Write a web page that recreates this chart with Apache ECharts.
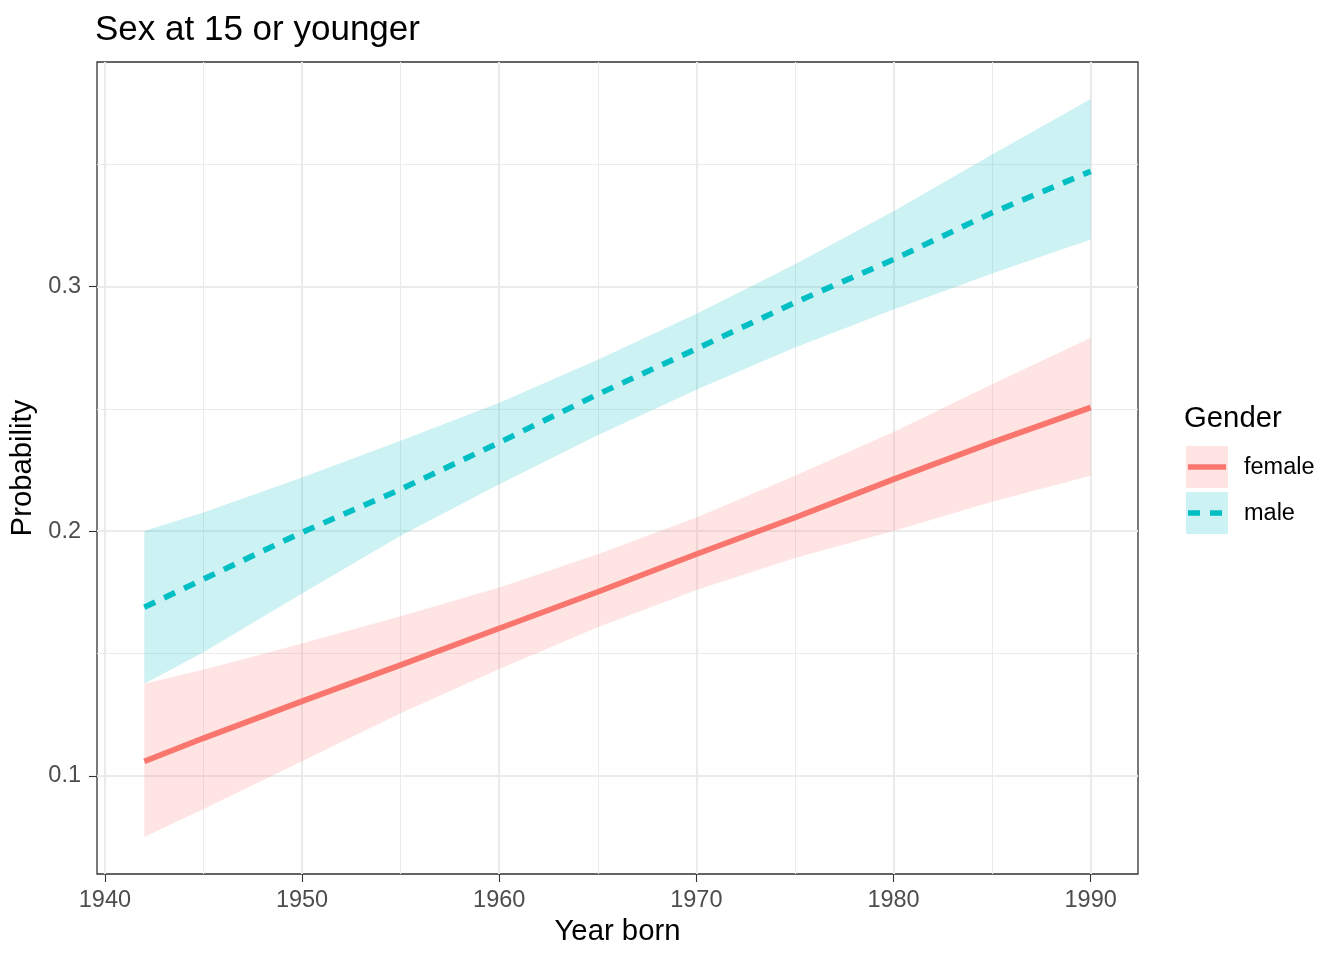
<!DOCTYPE html>
<html><head><meta charset="utf-8">
<script src="https://cdn.jsdelivr.net/npm/echarts@6/dist/echarts.min.js"></script>
<style>html,body{margin:0;padding:0;background:#fff}#c{width:1344px;height:960px}</style>
</head><body><div id="c"></div>
<script>
const years = [1942,1945,1950,1955,1960,1965,1970,1975,1980,1985,1990];
const femaleFit   = [0.1059,0.1154,0.1305,0.1453,0.1603,0.1752,0.1906,0.2055,0.2212,0.2362,0.2505];
const femaleLower = [0.0750,0.0865,0.1060,0.1256,0.1437,0.1607,0.1760,0.1890,0.2001,0.2120,0.2226];
const femaleUpper = [0.1376,0.1434,0.1541,0.1652,0.1770,0.1906,0.2056,0.2226,0.2405,0.2600,0.2790];
const maleFit     = [0.1689,0.1804,0.1995,0.2171,0.2362,0.2559,0.2745,0.2934,0.3110,0.3301,0.3470];
const maleLower   = [0.1376,0.1505,0.1745,0.1981,0.2192,0.2392,0.2578,0.2750,0.2906,0.3053,0.3192];
const maleUpper   = [0.2001,0.2076,0.2219,0.2369,0.2525,0.2700,0.2888,0.3090,0.3307,0.3539,0.3766];
const xTicks = [1940,1950,1960,1970,1980,1990];
const xMinor = [1945,1955,1965,1975,1985];
const yTicks = [0.1,0.2,0.3];
const yMinor = [0.15,0.25,0.35];
const genders = ['female','male'];

const FONT = "'Liberation Sans', Arial, Helvetica, sans-serif";
const COL_F = '#F8766D', COL_M = '#00BFC4';
const FILL_F = 'rgba(248,118,109,0.2)', FILL_M = 'rgba(0,191,196,0.2)';

// ggplot-like 5% expansion
const xMinD = Math.min(...years), xMaxD = Math.max(...years);
const allY = femaleLower.concat(femaleUpper, maleLower, maleUpper);
const yMinD = Math.min(...allY), yMaxD = Math.max(...allY);
const xPad = (xMaxD - xMinD) * 0.05, yPad = (yMaxD - yMinD) * 0.05;

const pairs = arr => years.map((y, i) => [y, arr[i]]);
const bandData = (lo, up) => years.map((y, i) => [y, lo[i], up[i]]);

function bandRenderer(fill) {
  return function (params, api) {
    if (params.dataIndex !== 0) return null;
    const n = years.length;
    const top = [], bot = [];
    for (let i = 0; i < n; i++) {
      top.push(api.coord([api.value(0, i), api.value(2, i)]));
      bot.push(api.coord([api.value(0, i), api.value(1, i)]));
    }
    const pts = top.concat(bot.reverse());
    return {type: 'polygon', shape: {points: pts}, style: {fill: fill, stroke: null}, silent: true};
  };
}

const gridLines = [];
xTicks.forEach(v => gridLines.push({xAxis: v, lineStyle: {color: '#EBEBEB', width: 2.1, type: 'solid'}}));
xMinor.forEach(v => gridLines.push({xAxis: v, lineStyle: {color: '#EBEBEB', width: 1.05, type: 'solid'}}));
yTicks.forEach(v => gridLines.push({yAxis: v, lineStyle: {color: '#EBEBEB', width: 2.1, type: 'solid'}}));
yMinor.forEach(v => gridLines.push({yAxis: v, lineStyle: {color: '#EBEBEB', width: 1.05, type: 'solid'}}));

const chart = echarts.init(document.getElementById('c'), null, {renderer: 'canvas'});
chart.setOption({
  animation: false,
  backgroundColor: '#fff',
  textStyle: {fontFamily: FONT},
  title: {
    text: 'Sex at 15 or younger', left: 95, top: 13, padding: 0,
    textStyle: {fontFamily: FONT, fontSize: 35, fontWeight: 'normal', color: '#000'}
  },
  grid: {left: 97, right: 206, top: 62, bottom: 86, show: true,
         borderColor: '#333333', borderWidth: 1.3, backgroundColor: '#fff', containLabel: false},
  xAxis: {
    type: 'value', min: xMinD - xPad, max: xMaxD + xPad,
    name: 'Year born', nameLocation: 'middle', nameGap: 42,
    nameTextStyle: {fontFamily: FONT, fontSize: 29.3, color: '#000'},
    axisLine: {show: false, onZero: false},
    axisTick: {show: true, length: 8, customValues: xTicks, lineStyle: {color: '#333333', width: 1.1}},
    axisLabel: {customValues: xTicks, margin: 15, fontFamily: FONT, fontSize: 23.5, color: '#4D4D4D',
                formatter: v => String(Math.round(v))},
    splitLine: {show: false}, minorSplitLine: {show: false}
  },
  yAxis: {
    type: 'value', min: yMinD - yPad, max: yMaxD + yPad,
    name: 'Probability', nameLocation: 'middle', nameGap: 55, nameRotate: 90,
    nameTextStyle: {fontFamily: FONT, fontSize: 29.3, color: '#000'},
    axisLine: {show: false, onZero: false},
    axisTick: {show: true, length: 8, customValues: yTicks, lineStyle: {color: '#333333', width: 1.1}},
    axisLabel: {customValues: yTicks, margin: 16, fontFamily: FONT, fontSize: 23.5, color: '#4D4D4D',
                formatter: v => v.toFixed(1)},
    splitLine: {show: false}, minorSplitLine: {show: false}
  },
  series: [
    {name: 'grid', type: 'line', data: pairs(femaleFit), showSymbol: false, symbol: 'none',
     lineStyle: {opacity: 0, width: 0}, silent: true, z: 1,
     markLine: {silent: true, z: 1, symbol: ['none','none'], label: {show: false}, animation: false, data: gridLines}},
    {name: 'femaleBand', type: 'custom', data: bandData(femaleLower, femaleUpper),
     encode: {x: 0, y: [1, 2]}, renderItem: bandRenderer(FILL_F), z: 2, silent: true},
    {name: 'maleBand', type: 'custom', data: bandData(maleLower, maleUpper),
     encode: {x: 0, y: [1, 2]}, renderItem: bandRenderer(FILL_M), z: 2, silent: true},
    {name: genders[0], type: 'line', data: pairs(femaleFit), symbol: 'none',
     lineStyle: {color: COL_F, width: 5.7, type: 'solid', cap: 'butt'}, z: 3},
    {name: genders[1], type: 'line', data: pairs(maleFit), symbol: 'none',
     lineStyle: {color: COL_M, width: 5.7, type: [12, 10], cap: 'butt'}, z: 3}
  ],
  graphic: [
    {type: 'text', left: 1184, top: 404, style: {text: 'Gender', font: "29.3px " + FONT, fill: '#000'}},
    {type: 'rect', shape: {x: 1186, y: 446, width: 42, height: 42}, style: {fill: FILL_F}},
    {type: 'line', shape: {x1: 1188, y1: 467, x2: 1226, y2: 467}, style: {stroke: COL_F, lineWidth: 5.7}},
    {type: 'rect', shape: {x: 1186, y: 492, width: 42, height: 42}, style: {fill: FILL_M}},
    {type: 'line', shape: {x1: 1188, y1: 513, x2: 1226, y2: 513}, style: {stroke: COL_M, lineWidth: 5.7, lineDash: [12, 10]}},
    {type: 'text', left: 1244, top: 456, style: {text: genders[0], font: "23.5px " + FONT, fill: '#000'}},
    {type: 'text', left: 1244, top: 502, style: {text: genders[1], font: "23.5px " + FONT, fill: '#000'}}
  ]
});
</script>
</body></html>
